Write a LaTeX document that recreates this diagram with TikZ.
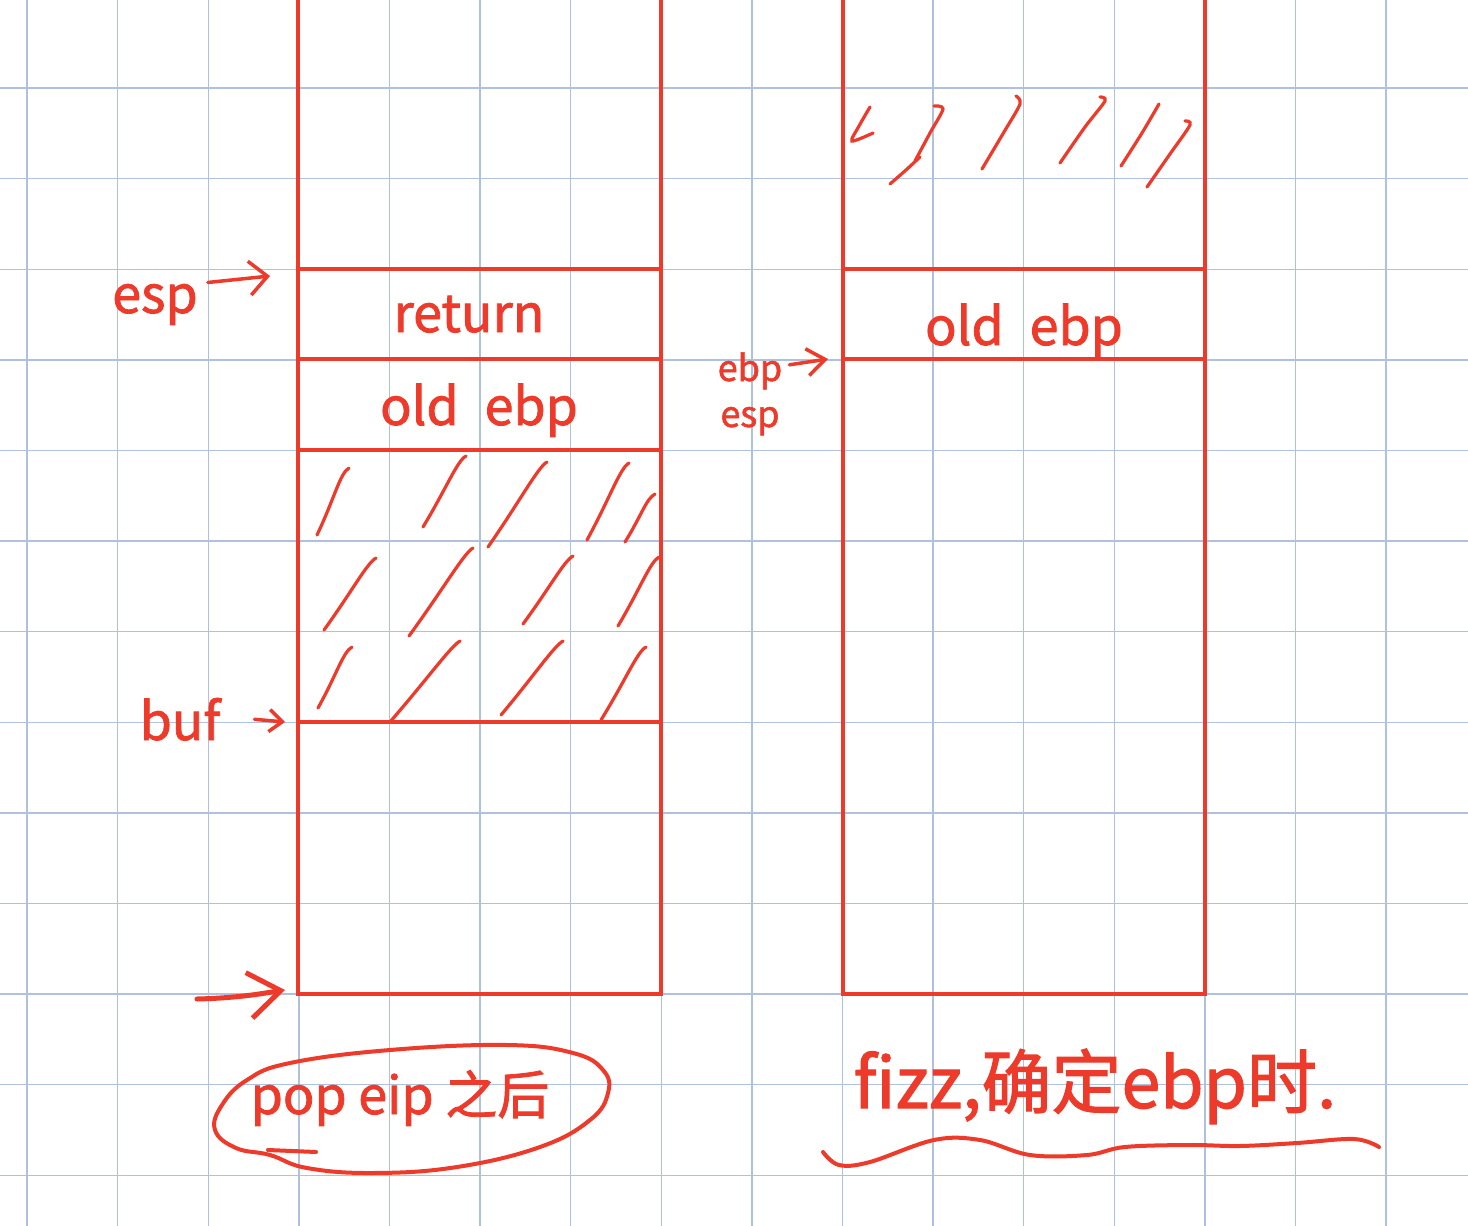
\documentclass[tikz,border=0pt]{standalone}
\usepackage{fontspec}
\newfontfamily\handfont[FakeBold=1.5]{Noto Sans CJK SC}
\usetikzlibrary{calc,arrows.meta}
\definecolor{ink}{RGB}{238,58,42}
\definecolor{gridc}{RGB}{174,194,224}
\begin{document}
\begin{tikzpicture}[x=1pt,y=-1pt,
  gridline/.style={gridc,line width=1.4pt},
  stackline/.style={ink,line width=4pt,line join=miter},
  hatch/.style={ink,line width=3.2pt,line cap=round},
  lbl/.style={ink,inner sep=0pt,anchor=base,font=\handfont\fontsize{52}{60}\selectfont},
  smalllbl/.style={lbl,font=\handfont\fontsize{36}{42}\selectfont},
  biglbl/.style={lbl,font=\handfont\fontsize{70}{80}\selectfont},
  arr/.style={ink,line width=3.5pt,line cap=round}]
\fill[white] (0,0) rectangle (1468,1226);
\useasboundingbox (0,0) rectangle (1468,1226);
% grid paper
\foreach \k in {0,...,15} \draw[gridline] ({27+90.6*\k},0) -- ({27+90.6*\k},1226);
\foreach \k in {0,...,12} \draw[gridline] (0,{88+90.6*\k}) -- (1468,{88+90.6*\k});
% left stack
\draw[stackline] (298,0) -- (298,994) -- (661,994) -- (661,0);
\foreach \yy in {269,359,450,722} \draw[stackline] (298,\yy) -- (661,\yy);
% right stack
\draw[stackline] (843,0) -- (843,994) -- (1205,994) -- (1205,0);
\foreach \yy in {269,359} \draw[stackline] (843,\yy) -- (1205,\yy);
% hatching, left buffer
\foreach \ax/\ay/\bx/\by in {317/535/349/468, 423/527/466/456, 488/547/547/462,
  587/540/629/463, 625/542/655/494, 324/630/376/558, 409/636/473/548,
  523/624/573/556, 618/626/659/557, 318/708/352/647, 390/722/460/641,
  501/715/563/641, 601/720/646/647}
  \draw[hatch] (\ax,\ay) .. controls ($(\ax,\ay)!0.55!(\bx,\by)$) and (\bx-9,\by+5) .. (\bx,\by);
% hatching, right top
\draw[hatch] plot[smooth] coordinates {(870,107) (859,126) (852,141) (873,133)};
\draw[hatch] plot[smooth] coordinates {(890,184) (906,170) (920,157)};
\draw[hatch] plot[smooth] coordinates {(915,161) (930,133) (943,109) (934,106)};
\draw[hatch] plot[smooth] coordinates {(982,169) (1004,132) (1020,104) (1016,96)};
\draw[hatch] plot[smooth] coordinates {(1060,163) (1085,127) (1105,101) (1100,97)};
\draw[hatch] plot[smooth] coordinates {(1121,166) (1142,133) (1159,104)};
\draw[hatch] plot[smooth] coordinates {(1147,187) (1170,154) (1190,125) (1185,121)};
% labels
\node[lbl] (espL) at (155,313) {esp};
\node[lbl] (ret) at (469,332) {return};
\node[lbl] (oebpL) at (479,425) {old\hspace{0.5em}ebp};
\node[lbl] (buf) at (180,740) {buf};
\node[lbl] (pop) at (400,1114) {pop eip 之后};
\node[lbl] (oebpR) at (1024,345) {old\hspace{0.5em}ebp};
\node[smalllbl] (ebpR) at (750,381) {ebp};
\node[smalllbl] (espR) at (750,427) {esp};
\node[biglbl] (fizz) at (1095,1108) {fizz,确定ebp时.};
% arrow targets
\coordinate (Lesp) at (270,276);
\coordinate (Lbuf) at (285,722);
\coordinate (Lbot) at (285,990);
\coordinate (botTail) at (197,999);
\coordinate (Rebp) at (828,359);
% connectors
\draw[arr,-{Straight Barb[length=18pt,width=34pt]}] ([shift={(10,-22)}]espL.east) -- (Lesp);
\draw[arr,-{Straight Barb[length=13pt,width=22pt]}] ([shift={(34,0)}]buf.east) -- (Lbuf);
\draw[arr,line width=5pt,-{Straight Barb[length=32pt,width=46pt]}] (botTail) .. controls (240,998) and (265,993) .. (Lbot);
\draw[arr,-{Straight Barb[length=18pt,width=27pt]}] ([shift={(7,-6)}]ebpR.east) -- (Rebp);
% hand-drawn loop around caption
\draw[ink,line width=4pt,line cap=round] plot[smooth cycle,tension=0.7] coordinates {(215,1130) (222,1105) (247,1080) (290,1063) (390,1050) (507,1045) (573,1053) (603,1070) (608,1093) (590,1120) (540,1147) (457,1167) (373,1173) (307,1168) (270,1155) (236,1148)};
\draw[ink,line width=4pt,line cap=round] (268,1150) -- (316,1152);
% wavy underline
\draw[ink,line width=4pt,line cap=round] plot[smooth,tension=0.6] coordinates {(823,1152) (839,1165) (870,1162) (934,1140) (980,1140) (1030,1155) (1087,1155) (1125,1147) (1190,1145) (1240,1146) (1297,1143) (1354,1139) (1379,1147)};
\end{tikzpicture}
\end{document}
